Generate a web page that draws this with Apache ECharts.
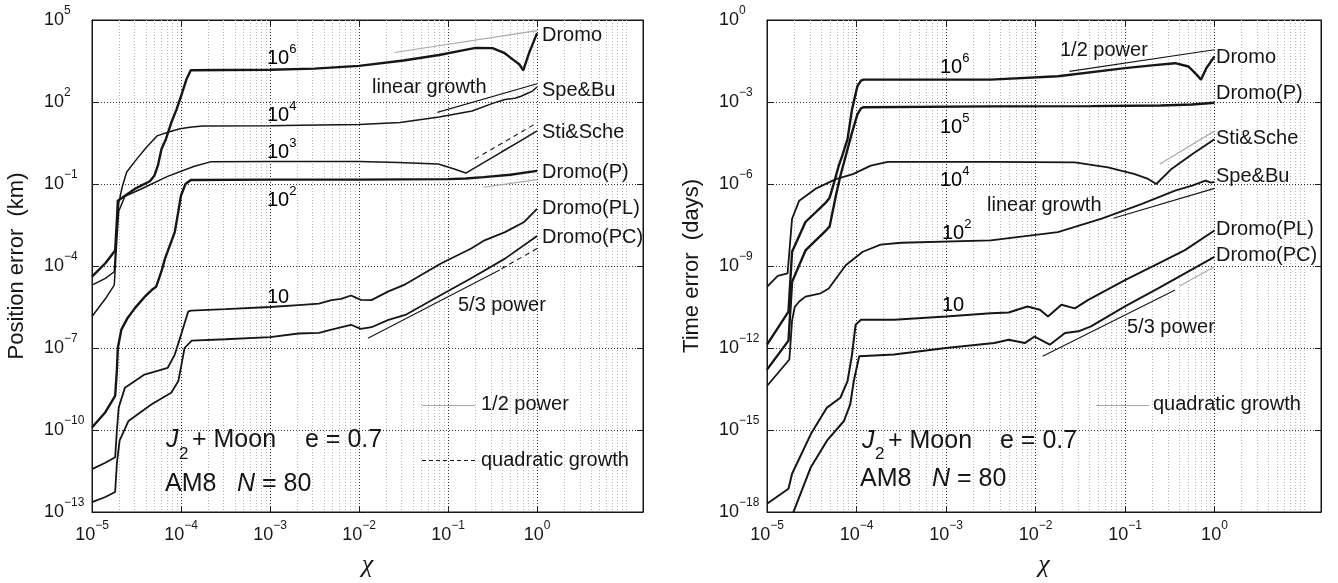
<!DOCTYPE html>
<html><head><meta charset="utf-8">
<script src="https://cdn.jsdelivr.net/npm/echarts@6/dist/echarts.min.js"></script>
<style>html,body{margin:0;padding:0;background:#fff}#c{width:1338px;height:583px}</style>
</head><body><div id="c"></div>
<script>
// ===== DATA: points as [log10(chi), log10(error)] =====
// Left panel: position error (km)
const leftDromo   = [[-5,-4.39],[-4.85,-3.9],[-4.74,-3.43],[-4.72,-2.3],[-4.71,-1.61],[-4.52,-1.18],[-4.35,-0.9],[-4.30,-0.7],[-4.26,-0.33],[-4.22,0.27],[-4.17,0.64],[-4.11,1.24],[-4.05,1.73],[-4.0,2.21],[-3.94,2.82],[-3.89,3.16],[-3.5,3.17],[-3,3.18],[-2.5,3.22],[-2,3.32],[-1.5,3.52],[-1.1,3.72],[-0.85,3.88],[-0.69,3.98],[-0.5,3.97],[-0.37,3.8],[-0.27,3.55],[-0.2,3.38],[-0.155,3.16],[-0.09,3.79],[0,4.52]];
const leftSpeBu   = [[-5,-4.70],[-4.85,-4.45],[-4.75,-4.21],[-4.72,-2.5],[-4.70,-1.7],[-4.66,-1.1],[-4.61,-0.56],[-4.5,-0.1],[-4.4,0.3],[-4.27,0.76],[-4.12,0.92],[-4.01,1.02],[-3.9,1.08],[-3.76,1.12],[-3,1.13],[-2.66,1.15],[-2,1.18],[-1.54,1.25],[-1.1,1.45],[-0.73,1.67],[-0.5,1.95],[-0.36,2.09],[-0.25,2.14],[-0.18,2.21],[-0.1,2.33],[-0.05,2.4],[0,2.55]];
const leftStiSche = [[-5,-5.85],[-4.85,-5.2],[-4.75,-4.70],[-4.72,-3.0],[-4.70,-2.0],[-4.63,-1.45],[-4.46,-1.2],[-4.15,-0.72],[-3.85,-0.35],[-3.67,-0.19],[-3,-0.18],[-2,-0.18],[-1.56,-0.21],[-1.11,-0.27],[-0.93,-0.45],[-0.8,-0.6],[-0.6,-0.22],[-0.4,0.17],[-0.2,0.55],[0,0.94]];
const leftDromoP  = [[-5,-9.91],[-4.85,-9.35],[-4.74,-8.75],[-4.72,-7.8],[-4.71,-7.0],[-4.67,-6.33],[-4.6,-5.9],[-4.52,-5.55],[-4.4,-5.1],[-4.33,-4.88],[-4.28,-4.76],[-4.22,-4.2],[-4.18,-3.73],[-4.12,-3.2],[-4.07,-2.76],[-4.03,-2.0],[-4.0,-1.42],[-3.95,-1.0],[-3.89,-0.855],[-3,-0.84],[-2,-0.84],[-1,-0.82],[-0.8,-0.8],[-0.6,-0.75],[-0.3,-0.66],[0,-0.52]];
const leftPL      = [[-5,-11.43],[-4.85,-11.2],[-4.74,-11.0],[-4.72,-10.0],[-4.70,-9.18],[-4.63,-8.45],[-4.41,-7.97],[-4.15,-7.73],[-4.07,-7.24],[-4.0,-6.52],[-3.92,-5.67],[-3.89,-5.63],[-3.5,-5.58],[-3,-5.5],[-2.68,-5.43],[-2.45,-5.38],[-2.31,-5.25],[-2.2,-5.2],[-2.09,-5.08],[-1.98,-5.24],[-1.86,-5.25],[-1.67,-4.93],[-1.48,-4.67],[-1.08,-3.91],[-0.74,-3.36],[-0.59,-3.06],[-0.36,-2.76],[-0.15,-2.4],[0,-1.91]];
const leftPC      = [[-5,-12.64],[-4.85,-12.45],[-4.74,-12.27],[-4.72,-11.2],[-4.69,-10.39],[-4.59,-9.67],[-4.33,-9.06],[-4.11,-8.64],[-4.03,-8.21],[-3.96,-7.0],[-3.88,-6.73],[-3.5,-6.68],[-3,-6.6],[-2.68,-6.47],[-2.45,-6.45],[-2.31,-6.33],[-2.09,-6.15],[-1.98,-6.3],[-1.86,-6.24],[-1.67,-5.97],[-1.48,-5.79],[-1.08,-5.06],[-0.74,-4.45],[-0.36,-3.73],[0,-2.9]];
// Left panel reference slopes
const leftHalfPowerA = [[-1.6,3.81],[0,4.61]];
const leftLinear     = [[-1.12,1.62],[0,2.67]];
const leftQuadratic  = [[-0.7,-0.09],[0,1.24]];
const leftHalfPowerB = [[-0.6,-1.12],[0,-0.84]];
const leftFiveThirds = [[-1.9,-6.64],[-0.42,-4.15]];
const leftFiveThirdsDash = [[-0.4,-4.1],[0,-3.36]];

// Right panel: time error (days)
const rightDromo   = [[-5,-11.88],[-4.76,-10.67],[-4.72,-8.48],[-4.57,-7.39],[-4.34,-6.67],[-4.3,-6.5],[-4.25,-5.94],[-4.2,-5.35],[-4.16,-4.97],[-4.1,-4.36],[-4.05,-3.27],[-3.99,-2.42],[-3.95,-2.22],[-3.92,-2.18],[-3,-2.18],[-2.5,-2.18],[-1.75,-2.06],[-1.0,-1.76],[-0.7,-1.66],[-0.44,-1.58],[-0.29,-1.70],[-0.2,-2.0],[-0.15,-2.18],[-0.09,-1.76],[0,-1.33]];
const rightDromoP  = [[-5,-12.79],[-4.76,-11.73],[-4.72,-9.58],[-4.57,-8.43],[-4.34,-7.70],[-4.3,-7.55],[-4.23,-6.42],[-4.18,-5.70],[-4.1,-4.73],[-4.05,-4.12],[-3.99,-3.45],[-3.95,-3.23],[-3.92,-3.19],[-2.5,-3.16],[-1.38,-3.15],[-0.6,-3.13],[-0.25,-3.09],[0,-3.03]];
const rightStiSche = [[-5,-9.76],[-4.88,-9.36],[-4.77,-9.27],[-4.72,-7.27],[-4.64,-6.61],[-4.46,-6.18],[-4.23,-5.82],[-4.04,-5.64],[-3.84,-5.33],[-3.65,-5.19],[-2.5,-5.19],[-1.56,-5.21],[-1.19,-5.39],[-0.89,-5.64],[-0.75,-5.8],[-0.65,-6.0],[-0.48,-5.45],[-0.25,-4.91],[0,-4.36]];
const rightSpeBu   = [[-5,-13.39],[-4.75,-12.42],[-4.72,-11.0],[-4.69,-10.5],[-4.64,-10.3],[-4.57,-10.12],[-4.4,-10.0],[-4.31,-9.82],[-4.12,-8.97],[-3.93,-8.48],[-3.73,-8.22],[-3.5,-8.15],[-2.5,-8.06],[-1.75,-7.76],[-1.26,-7.27],[-0.81,-6.73],[-0.44,-6.24],[-0.25,-6.06],[-0.1,-5.88],[-0.04,-5.95],[0,-5.92]];
const rightPL      = [[-5,-17.7],[-4.76,-17.15],[-4.72,-16.6],[-4.51,-15.15],[-4.33,-14.18],[-4.18,-13.82],[-4.1,-13.21],[-4.05,-12.24],[-4.01,-11.15],[-3.95,-10.97],[-3.58,-10.97],[-3.0,-10.85],[-2.5,-10.73],[-2.3,-10.7],[-2.09,-10.48],[-1.95,-10.6],[-1.86,-10.85],[-1.71,-10.42],[-1.56,-10.55],[-1.41,-10.24],[-1.0,-9.52],[-0.63,-8.91],[-0.33,-8.42],[0,-7.70]];
const rightPC      = [[-4.74,-18.3],[-4.51,-16.36],[-4.33,-15.39],[-4.14,-14.67],[-4.07,-14.06],[-4.03,-13.21],[-3.97,-12.3],[-3.58,-12.24],[-3.0,-12.0],[-2.46,-11.82],[-2.3,-11.7],[-2.12,-11.82],[-2.01,-11.58],[-1.84,-11.88],[-1.67,-11.45],[-1.52,-11.39],[-1.38,-11.21],[-1.0,-10.48],[-0.63,-9.82],[-0.33,-9.27],[0,-8.67]];
// Right panel reference slopes
const rightHalfPower  = [[-1.62,-1.88],[0,-1.09]];
const rightQuadratic  = [[-0.61,-5.27],[0,-4.06]];
const rightLinear     = [[-1.13,-7.25],[0,-6.16]];
const rightFiveThirds = [[-1.92,-12.3],[-0.44,-9.88]];
const rightFiveThirdsGray = [[-0.39,-9.73],[0,-9.03]];

// Axis ticks
const xTicks      = [1e-5,1e-4,1e-3,1e-2,1e-1,1];
const leftYTicks  = [1e-13,1e-10,1e-7,1e-4,1e-1,1e2,1e5];
const rightYTicks = [1e-18,1e-15,1e-12,1e-9,1e-6,1e-3,1];
const X_MAX = 15.5;

// ===== building =====
const FONT = "'Liberation Sans', Arial, Helvetica, sans-serif";
const INK = '#161616';
const GRAYREF = '#a8a8a8';
const pts = arr => arr.map(p => [Math.pow(10, p[0]), Math.pow(10, p[1])]);
const sup = v => { const e = Math.round(Math.log10(v)); return '{b|10}{s|' + (e < 0 ? '\u2212' + (-e) : e) + '}'; };
const rich = { b: { fontSize: 18, lineHeight: 30, fontFamily: FONT, color: INK }, s: { fontSize: 12, lineHeight: 14, verticalAlign: 'top', fontFamily: FONT, color: INK } };

const grids = [
  { left: 92, top: 20, width: 551, height: 495, show: true, borderColor: INK, borderWidth: 1, backgroundColor: '#fff' },
  { left: 767, top: 20, width: 554, height: 495, show: true, borderColor: INK, borderWidth: 1, backgroundColor: '#fff' }
];

function xAx(gi, bottom) {
  return {
    type: 'log', gridIndex: gi, min: 1e-5, max: X_MAX, position: bottom ? 'bottom' : 'top',
    name: bottom ? '\u03c7' : '', nameLocation: 'middle', nameGap: 40,
    nameTextStyle: { fontSize: 26, fontFamily: "'Liberation Serif', 'DejaVu Serif', serif", fontStyle: 'italic', color: INK },
    axisLine: { show: true, lineStyle: { color: INK, width: 1 } },
    axisTick: { show: true, inside: true, length: 6, customValues: xTicks, lineStyle: { color: INK } },
    axisLabel: { show: bottom, customValues: xTicks, formatter: sup, rich: rich, margin: 8 },
    splitLine: { show: false }, minorTick: { show: false }
  };
}
function yAx(gi, left, min, max, ticks, name) {
  return {
    type: 'log', gridIndex: gi, min: min, max: max, position: left ? 'left' : 'right',
    name: left ? name : '', nameLocation: 'middle', nameGap: 64,
    nameTextStyle: { fontSize: 22, fontFamily: FONT, color: INK },
    axisLine: { show: true, lineStyle: { color: INK, width: 1 } },
    axisTick: { show: true, inside: true, length: 6, customValues: ticks, lineStyle: { color: INK } },
    axisLabel: { show: left, customValues: ticks, formatter: sup, rich: rich, margin: 48, align: 'left' },
    splitLine: { show: false }, minorTick: { show: false }
  };
}

// grid-line positions: [x value, y value, kind]  kind 0 = minor vertical, 1 = major vertical, 2 = major horizontal
function gridData(yTicks) {
  const data = [];
  const yMid = yTicks[1];
  for (let k = -5; k <= 1; k++) {
    const d = Math.pow(10, k);
    if (k > -5 && k <= 0) data.push([d, yMid, 1]);
    if (k === 1) data.push([d, yMid, 0]);
    for (let m = 2; m <= 9; m++) {
      const v = m * d;
      if (v < X_MAX) data.push([v, yMid, 0]);
    }
  }
  yTicks.slice(1, -1).forEach(v => data.push([1e-3, v, 2]));
  return data;
}
function renderGrid(params, api) {
  const cs = params.coordSys;
  const kind = api.value(2);
  const p = api.coord([api.value(0), api.value(1)]);
  const dash = [1, 2];
  if (kind === 2) {
    const y = Math.round(p[1]) + 0.5;
    return { type: 'line', shape: { x1: cs.x, y1: y, x2: cs.x + cs.width, y2: y }, style: { stroke: '#303030', lineWidth: 1, lineDash: dash } };
  }
  const x = Math.round(p[0]) + 0.5;
  return { type: 'line', shape: { x1: x, y1: cs.y, x2: x, y2: cs.y + cs.height },
    style: { stroke: kind === 1 ? '#303030' : '#b8b8b8', lineWidth: 1, lineDash: dash } };
}

function line(data, gi, width, opts) {
  return Object.assign({
    type: 'line', xAxisIndex: gi * 2, yAxisIndex: gi * 2, data: pts(data),
    showSymbol: false, symbol: 'none', animation: false, silent: true, z: 5,
    lineStyle: { color: INK, width: width }
  }, opts || {});
}

const series = [
  { type: 'custom', xAxisIndex: 0, yAxisIndex: 0, data: gridData(leftYTicks), renderItem: renderGrid, z: 1, silent: true, animation: false },
  { type: 'custom', xAxisIndex: 2, yAxisIndex: 2, data: gridData(rightYTicks), renderItem: renderGrid, z: 1, silent: true, animation: false },
  line(leftDromo, 0, 2.4), line(leftSpeBu, 0, 1.5), line(leftStiSche, 0, 1.5),
  line(leftDromoP, 0, 2.4), line(leftPL, 0, 1.8), line(leftPC, 0, 1.8),
  line(leftHalfPowerA, 0, 1.2, { lineStyle: { color: GRAYREF, width: 1.2 } }),
  line(leftLinear, 0, 1.1),
  line(leftQuadratic, 0, 1.1, { lineStyle: { color: INK, width: 1.1, type: [5, 4] } }),
  line(leftHalfPowerB, 0, 1.2, { lineStyle: { color: GRAYREF, width: 1.2 } }),
  line(leftFiveThirds, 0, 1.1),
  line(leftFiveThirdsDash, 0, 1.1, { lineStyle: { color: INK, width: 1.1, type: [5, 4] } }),
  line(rightDromo, 1, 2.4), line(rightDromoP, 1, 2.4), line(rightStiSche, 1, 1.8),
  line(rightSpeBu, 1, 1.8), line(rightPL, 1, 2.0), line(rightPC, 1, 2.0),
  line(rightHalfPower, 1, 1.1),
  line(rightQuadratic, 1, 1.2, { lineStyle: { color: GRAYREF, width: 1.2 } }),
  line(rightLinear, 1, 1.1),
  line(rightFiveThirds, 1, 1.1),
  line(rightFiveThirdsGray, 1, 1.2, { lineStyle: { color: GRAYREF, width: 1.2 } })
];

// ===== annotations (pixel placed) =====
function T(x, y, text, size, extra) {
  return { type: 'text', z: 100, silent: true, style: Object.assign({ x: x, y: y, text: text, fill: INK, fontSize: size || 20, fontFamily: FONT, verticalAlign: 'middle', align: 'left' }, extra || {}) };
}
const numRich = { b: { fontSize: 20, lineHeight: 30, fontFamily: FONT, color: INK }, s: { fontSize: 13, lineHeight: 14, verticalAlign: 'top', fontFamily: FONT, color: INK } };
function N(x, y, exp) {
  const t = exp === '' ? '{b|10}' : '{b|10}{s|' + exp + '}';
  return { type: 'text', z: 100, silent: true, style: { x: x, y: y, text: t, rich: numRich, verticalAlign: 'middle', align: 'left' } };
}
function L(x1, x2, y, color, dash) {
  return { type: 'line', z: 100, silent: true, shape: { x1: x1, y1: y, x2: x2, y2: y }, style: { stroke: color, lineWidth: 1.2, lineDash: dash || null } };
}
const graphic = [
  // left panel
  T(542, 35, 'Dromo'), T(542, 90, 'Spe&Bu'), T(542, 132, 'Sti&Sche'), T(542, 172, 'Dromo(P)'),
  T(542, 208, 'Dromo(PL)'), T(542, 237, 'Dromo(PC)'),
  N(267, 58, '6'), N(267, 115, '4'), N(267, 152, '3'), N(267, 200, '2'), N(267, 297, ''),
  T(372, 87, 'linear growth'), T(458, 305, '5/3 power'),
  L(422, 475, 405.5, GRAYREF), T(481, 404, '1/2 power'),
  L(422, 475, 460.5, INK, [4, 3]), T(481, 460, 'quadratic growth'),
  T(166, 440, 'J', 25, { fontStyle: 'italic' }), T(179, 454, '2', 17), T(192, 440, '+ Moon', 25), T(305, 440, 'e = 0.7', 25),
  T(165, 484, 'AM8', 25), T(237, 484, 'N', 25, { fontStyle: 'italic' }), T(262, 484, '= 80', 25),
  // right panel
  T(1216, 57, 'Dromo'), T(1216, 93, 'Dromo(P)'), T(1216, 138, 'Sti&Sche'), T(1216, 176, 'Spe&Bu'),
  T(1216, 229, 'Dromo(PL)'), T(1216, 255, 'Dromo(PC)'),
  N(940, 67, '6'), N(940, 127, '5'), N(940, 180, '4'), N(942, 233, '2'), N(942, 305, ''),
  T(987, 205, 'linear growth'), T(1127, 327, '5/3 power'), T(1060, 50, '1/2 power'),
  L(1096, 1149, 405.5, GRAYREF), T(1153, 404, 'quadratic growth'),
  T(862, 441, 'J', 25, { fontStyle: 'italic' }), T(875, 454, '2', 17), T(888, 441, '+ Moon', 25), T(1000, 441, 'e = 0.7', 25),
  T(860, 479, 'AM8', 25), T(932, 479, 'N', 25, { fontStyle: 'italic' }), T(957, 479, '= 80', 25)
];

const chart = echarts.init(document.getElementById('c'), null, { renderer: 'canvas' });
chart.setOption({
  animation: false,
  backgroundColor: '#fff',
  grid: grids,
  xAxis: [xAx(0, true), xAx(0, false), xAx(1, true), xAx(1, false)],
  yAxis: [
    yAx(0, true, 1e-13, 1e5, leftYTicks, 'Position error  (km)'),
    yAx(0, false, 1e-13, 1e5, leftYTicks, ''),
    yAx(1, true, 1e-18, 1, rightYTicks, 'Time error  (days)'),
    yAx(1, false, 1e-18, 1, rightYTicks, '')
  ],
  series: series,
  graphic: graphic
});
</script></body></html>
